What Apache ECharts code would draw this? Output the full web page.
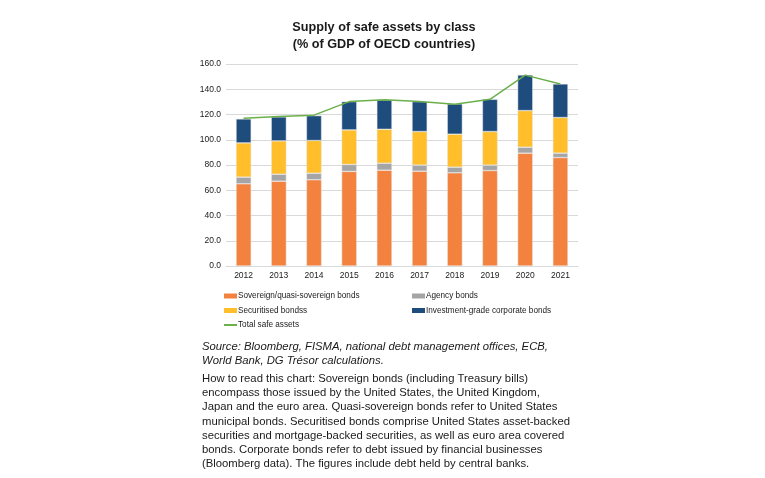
<!DOCTYPE html>
<html>
<head>
<meta charset="utf-8">
<script src="https://cdn.jsdelivr.net/npm/echarts@6/dist/echarts.min.js"></script>
<style>
html,body{margin:0;padding:0;background:#fff;}
#c{width:765px;height:478px;}
</style>
</head>
<body>
<div id="c"></div>
<script>
var years = ['2012','2013','2014','2015','2016','2017','2018','2019','2020','2021'];
var sovereign = [65.1, 67.2, 68.3, 74.9, 75.9, 75.1, 73.8, 75.6, 89.4, 85.9];
var agency = [5.3, 5.5, 5.2, 5.5, 5.5, 4.8, 4.5, 4.3, 4.7, 3.5];
var securitised = [27.1, 26.4, 25.9, 27.4, 26.9, 26.6, 26.1, 26.6, 29.0, 28.2];
var corporate = [19.0, 19.0, 19.7, 22.4, 23.2, 23.7, 24.0, 25.5, 28.2, 26.6];
var total = [117.0, 118.5, 119.5, 130.2, 131.6, 130.3, 128.2, 132.0, 151.2, 144.2];
var yTicks = [0, 20, 40, 60, 80, 100, 120, 140, 160];

var textLines = [
  {t: 'Source: Bloomberg, FISMA, national debt management offices, ECB,', italic: true},
  {t: 'World Bank, DG Trésor calculations.', italic: true},
  {t: 'How to read this chart: Sovereign bonds (including Treasury bills)', italic: false},
  {t: 'encompass those issued by the United States, the United Kingdom,', italic: false},
  {t: 'Japan and the euro area. Quasi-sovereign bonds refer to United States', italic: false},
  {t: 'municipal bonds. Securitised bonds comprise United States asset-backed', italic: false},
  {t: 'securities and mortgage-backed securities, as well as euro area covered', italic: false},
  {t: 'bonds. Corporate bonds refer to debt issued by financial businesses', italic: false},
  {t: '(Bloomberg data). The figures include debt held by central banks.', italic: false}
];

var FONT = '"Liberation Sans", Arial, sans-serif';
var lineY = [346.7, 360.7, 378.5, 392.8, 407.1, 421.4, 435.7, 450.0, 464.3];
var graphics = textLines.map(function (l, i) {
  return {
    type: 'text', x: 202, y: lineY[i],
    style: {
      text: l.t, fill: '#1a1a1a', font: (l.italic ? 'italic ' : '') + '11.3px ' + FONT,
      align: 'left', verticalAlign: 'middle'
    }
  };
});

var chart = echarts.init(document.getElementById('c'));
var legendText = {fontSize: 8.2, fontFamily: FONT, color: '#1a1a1a', lineHeight: 10, padding: [0, 0, 0, -4]};
chart.setOption({
  animation: false,
  title: {
    text: 'Supply of safe assets by class\n(% of GDP of OECD countries)',
    left: 379, top: 14, textAlign: 'center',
    textStyle: {fontSize: 12.7, fontWeight: 'bold', fontFamily: FONT, color: '#1a1a1a', lineHeight: 17}
  },
  grid: {left: 226, right: 187, top: 64, bottom: 212, containLabel: false},
  legend: [
    {
      orient: 'vertical', left: 223, top: 291, padding: 0, itemGap: 4.5,
      itemWidth: 13, itemHeight: 5, textStyle: legendText, itemStyle: {borderWidth: 0},
      data: [{name: 'Sovereign/quasi-sovereign bonds', icon: 'rect'}, {name: 'Securitised bondss', icon: 'rect'},
             {name: 'Total safe assets', itemStyle: {opacity: 0}}]
    },
    {
      orient: 'vertical', left: 412, top: 291, padding: 0, itemGap: 4.5,
      itemWidth: 13, itemHeight: 5, textStyle: legendText, itemStyle: {borderWidth: 0},
      data: [{name: 'Agency bonds', icon: 'rect'}, {name: 'Investment-grade corporate bonds', icon: 'rect'}]
    }
  ],
  xAxis: {
    type: 'category', data: years,
    axisLine: {show: true, lineStyle: {color: '#d9d9d9'}},
    axisTick: {show: false},
    axisLabel: {fontSize: 8.5, fontFamily: FONT, color: '#1a1a1a', margin: 5}
  },
  yAxis: {
    type: 'value', min: 0, max: 160, interval: 20,
    axisLine: {show: false}, axisTick: {show: false},
    splitLine: {lineStyle: {color: '#d9d9d9', width: 1}},
    axisLabel: {
      fontSize: 8.5, fontFamily: FONT, color: '#1a1a1a', margin: 5,
      formatter: function (v) { return yTicks.indexOf(v) >= 0 ? v.toFixed(1) : ''; }
    }
  },
  series: [
    {name: 'Sovereign/quasi-sovereign bonds', type: 'bar', stack: 's', data: sovereign, barWidth: '43%',
      itemStyle: {color: '#F4823F', borderColor: '#e8e8e8', borderWidth: 0.5}},
    {name: 'Agency bonds', type: 'bar', stack: 's', data: agency,
      itemStyle: {color: '#A5A5A5', borderColor: '#e8e8e8', borderWidth: 0.5}},
    {name: 'Securitised bondss', type: 'bar', stack: 's', data: securitised,
      itemStyle: {color: '#FFBE2A', borderColor: '#e8e8e8', borderWidth: 0.5}},
    {name: 'Investment-grade corporate bonds', type: 'bar', stack: 's', data: corporate,
      itemStyle: {color: '#1E4C7D', borderColor: '#e8e8e8', borderWidth: 0.5}},
    {name: 'Total safe assets', type: 'line', data: total, symbol: 'none', z: 5,
      lineStyle: {color: '#6BB04A', width: 1.5}, itemStyle: {color: '#6BB04A'}}
  ],
  graphic: graphics
});
</script>
</body>
</html>
